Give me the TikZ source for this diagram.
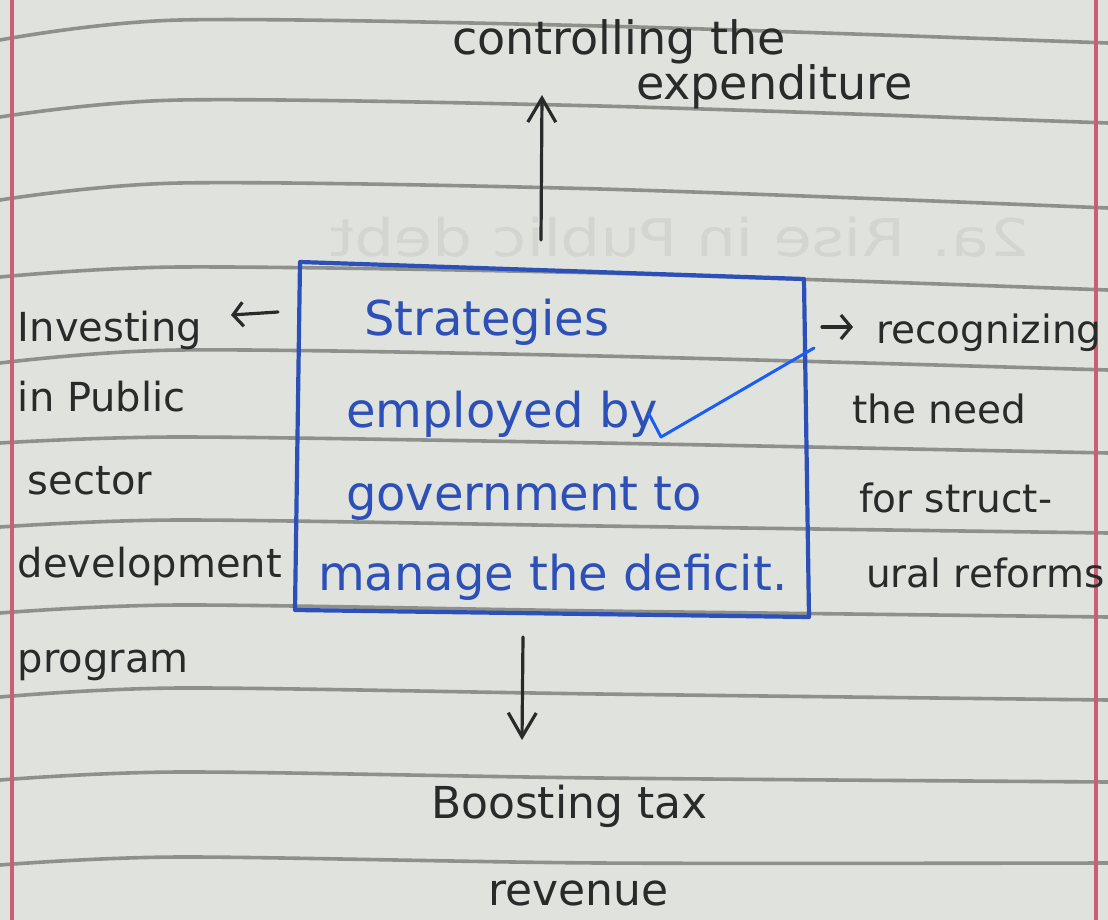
\documentclass[tikz,border=0pt]{standalone}
\usepackage{fontspec}
\setmainfont{DejaVu Sans}
\usetikzlibrary{arrows.meta}
\definecolor{paper}{HTML}{E0E3DD}
\definecolor{ruleline}{HTML}{8E908C}
\definecolor{marginred}{HTML}{CC5E74}
\definecolor{ink}{HTML}{2A2A2A}
\definecolor{blueink}{HTML}{2C50B8}
\definecolor{brightblue}{HTML}{1A5EF5}
\definecolor{ghostink}{HTML}{D3D6D0}
\begin{document}
\begin{tikzpicture}[x=0.5pt,y=-0.5pt,
  ruled/.style={draw=ruleline, line width=1.8pt, line cap=round},
  marginline/.style={draw=marginred, line width=1.6pt},
  hand/.style={inner sep=0pt, outer sep=0pt, align=left, text=ink, anchor=base west},
  bluehand/.style={hand, text=blueink},
  arr/.style={draw=ink, line width=1.6pt, line cap=round, line join=round,
    -{Straight Barb[length=12pt,width=14pt,line width=1.6pt]}},
  smallarr/.style={draw=ink, line width=1.6pt, line cap=round, line join=round,
    -{Straight Barb[length=5pt,width=12pt,line width=1.6pt]}},
  boxline/.style={draw=blueink, line width=2.1pt, line join=round},
]
\useasboundingbox (0,0) rectangle (1108,920);
\fill[paper] (0,0) rectangle (1108,920);

% ruled lines of the notebook
\foreach \l/\m/\r in {40/20/43, 117/100/123, 200/183/208, 277/267/290, 363/350/370,
  443/437/453, 527/520/533, 613/605/617, 697/688/700, 780/772/782, 865/857/863}{
  \draw[ruled] plot[smooth] coordinates {(0,\l) (180,\m) (600,\m+6) (1108,\r)};
}
% margin lines
\draw[marginline] (12,0) -- (12,920);
\draw[marginline] (1096,0) -- (1096,920);

% show-through from the back of the page
\node[inner sep=0pt, text=ghostink, xscale=-1.2, anchor=base,
  font=\fontsize{26}{26}\selectfont] (ghost) at (680,256) {2a. Rise in Public debt};

% central box
\coordinate (b1) at (300,262);
\coordinate (b2) at (804,279);
\coordinate (b3) at (809,617);
\coordinate (b4) at (295,610);
\draw[boxline] (b1) -- (b2) -- (b3) -- (b4) -- cycle;

\node[bluehand, font=\fontsize{24}{42}\selectfont] (strat) at (318,590)
  {\hspace*{23pt}Strategies\\[4pt]\hspace*{14pt}employed by\\[-0.5pt]\hspace*{14pt}government to\\[-2pt]manage the deficit.};

% pen stroke across the box
\coordinate (p1) at (814,348);
\coordinate (p2) at (661,437);
\coordinate (p3) at (649,414);
\draw[draw=brightblue, line width=1.5pt, line cap=round, line join=round] (p1) -- (p2) -- (p3);

% top
\node[hand, font=\fontsize{23}{22.5}\selectfont] (ctl) at (452,100)
  {controlling the\\\hspace*{92pt}expenditure};
\coordinate (uS) at (541,240);
\coordinate (uE) at (542,95);
\draw[arr] (uS) -- (uE);

% left
\node[hand, font=\fontsize{20}{41.5}\selectfont] (inv) at (18,672)
  {Investing\\[-6.5pt]in Public\\\hspace*{5pt}sector\\development\\[6pt]program};
\coordinate (lS) at (278,312);
\coordinate (lE) at (231,315);
\draw[smallarr] (lS) -- (lE);

% right
\node[hand, font=\fontsize{19.5}{41}\selectfont] (rec) at (852,587)
  {\hspace*{12pt}recognizing\\[-1pt]the need\\[3.5pt]\hspace*{3.5pt}for struct-\\[-3.5pt]\hspace*{7pt}ural reforms};
\coordinate (rS) at (822,327);
\coordinate (rE) at (853,327);
\draw[smallarr] (rS) -- (rE);

% bottom
\coordinate (dS) at (523,637);
\coordinate (dE) at (522,740);
\draw[arr] (dS) -- (dE);
\node[hand, font=\fontsize{22}{43.5}\selectfont] (boost) at (431,905)
  {Boosting tax\\\hspace*{28.5pt}revenue};
\end{tikzpicture}
\end{document}
